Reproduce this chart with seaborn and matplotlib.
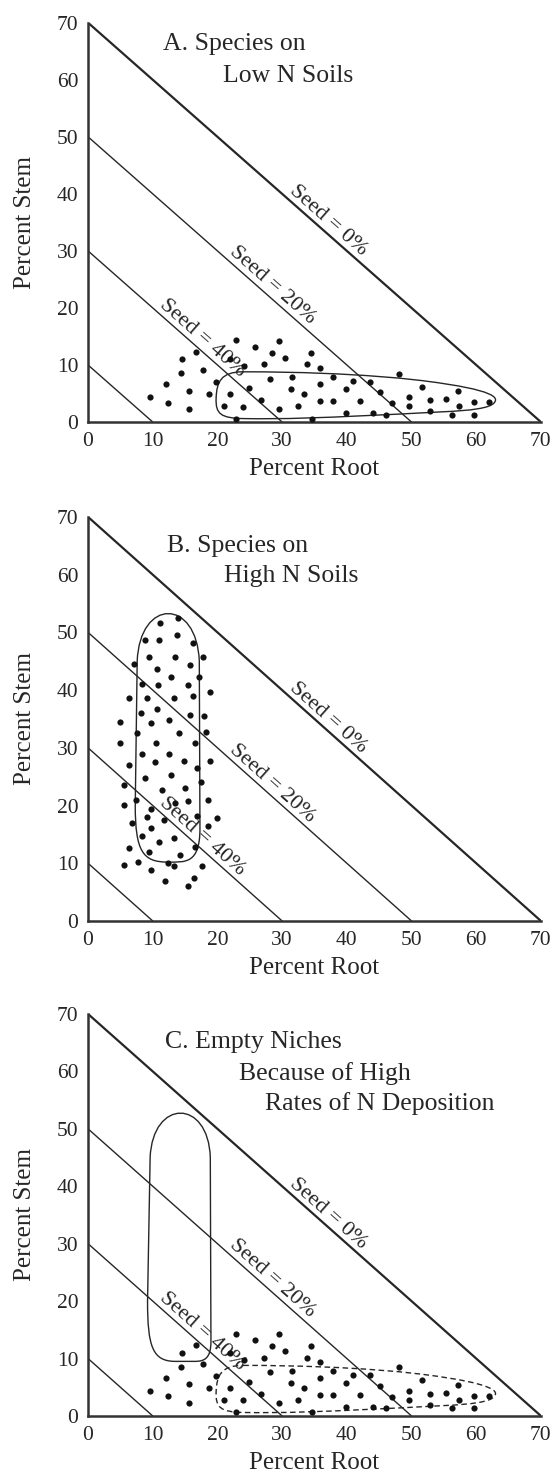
import matplotlib
matplotlib.use("Agg")
import matplotlib.pyplot as plt
from matplotlib.path import Path
from matplotlib.patches import PathPatch
import pandas as pd
import seaborn as sns

# ---- species on low-N soils: allocation to root and stem (%) ----
low_n_root = [22.9, 29.5, 25.8, 16.7, 28.5, 34.4, 30.5, 14.5, 22.0, 24.1,
              27.2, 33.8, 35.9, 17.7, 14.3, 48.0, 28.2, 31.5, 37.9, 40.9,
              43.6, 19.8, 12.1, 35.9, 51.6, 24.9, 31.4, 39.9, 57.2, 15.6,
              45.2, 18.7, 21.9, 33.4, 9.6, 26.7, 35.9, 37.8, 42.0, 49.6,
              52.9, 55.3, 59.7, 62.0, 47.0, 12.3, 21.0, 24.0, 32.4, 49.6,
              57.4, 29.5, 15.6, 52.9, 39.9, 44.1, 46.1, 56.3, 59.7, 22.9,
              34.6]
low_n_stem = [14.3, 14.2, 13.2, 12.3, 12.1, 12.1, 11.3, 11.0, 11.0, 9.8,
              10.1, 10.1, 9.4, 9.1, 8.6, 8.5, 7.6, 7.9, 7.9, 7.2,
              7.1, 7.0, 6.6, 6.6, 6.2, 5.9, 5.8, 5.8, 5.4, 5.5,
              5.2, 4.9, 4.9, 4.9, 4.3, 3.8, 3.6, 3.7, 3.7, 4.4,
              3.8, 4.0, 3.5, 3.5, 3.3, 3.4, 2.8, 2.7, 2.8, 2.8,
              2.8, 2.2, 2.2, 1.9, 1.5, 1.5, 1.3, 1.3, 1.3, 0.6,
              0.6]

# ---- species on high-N soils ----
high_n_root = [11.1, 13.9, 8.8, 10.9, 13.7, 16.3, 9.4, 13.5, 17.8, 7.1,
               15.8, 10.6, 12.8, 17.2, 8.4, 10.8, 15.4, 6.4, 9.1, 13.3,
               16.3, 18.9, 10.6, 8.2, 15.8, 17.9, 5.0, 9.8, 12.5, 7.5,
               14.0, 18.3, 4.9, 10.5, 16.5, 8.3, 12.5, 6.4, 10.4, 14.8,
               18.9, 16.8, 12.9, 8.8, 5.5, 17.4, 15.0, 11.5, 7.4, 15.4,
               18.6, 5.5, 9.7, 13.4, 9.1, 11.8, 16.8, 19.9, 6.8, 18.5,
               9.8, 8.3, 10.9, 13.3, 6.4, 9.4, 16.5, 14.2, 5.5, 7.8,
               9.7, 12.3, 13.3, 17.6, 16.4, 11.9, 15.4]
high_n_stem = [51.6, 52.5, 48.6, 48.6, 49.6, 48.2, 45.7, 45.7, 45.8, 44.5,
               44.4, 43.6, 42.3, 42.2, 41.1, 40.9, 40.9, 38.6, 38.6, 38.6,
               39.0, 39.6, 36.7, 36.0, 35.7, 35.5, 34.5, 34.3, 34.8, 32.5,
               32.5, 32.8, 30.9, 30.9, 30.9, 28.9, 28.9, 27.1, 27.6, 27.8,
               27.8, 26.5, 25.3, 24.7, 23.6, 24.1, 23.0, 22.7, 21.0, 20.8,
               21.0, 20.1, 19.4, 20.4, 18.0, 17.5, 18.1, 17.8, 17.0, 16.5,
               16.1, 14.7, 13.6, 14.3, 12.6, 12.0, 12.8, 11.4, 9.7, 10.3,
               8.8, 10.1, 9.5, 9.5, 7.4, 7.0, 6.1]

# ---- envelopes around each group (M = move, L = line, C = cubic bezier) ----
low_n_env_root = [24.0, 42.0, 52.0, 52.0, 63.2, 63.4, 62.8, 62.2, 59.0, 55.0,
                  35.0, 30.0, 24.0, 20.5, 19.7, 19.8, 19.9, 20.5, 24.0]
low_n_env_stem = [8.8, 8.8, 7.2, 7.2, 5.6, 4.2, 3.4, 2.4, 2.0, 1.8,
                  0.6, 0.5, 0.6, 0.7, 1.4, 4.2, 7.0, 8.8, 8.8]
low_n_env_codes = "MCCCCCCCLCCCCCCCCCC"

high_n_env_root = [7.3, 7.6, 8.0, 16.8, 17.2, 17.3, 17.3, 15.0, 12.3, 8.5, 7.3, 7.3]
high_n_env_stem = [20.0, 45.0, 56.0, 56.0, 45.0, 16.0, 9.8, 10.2, 10.2, 10.2, 12.0, 20.0]
high_n_env_codes = "MLCCCLCCCCCC"

empty_env_root = [9.2, 9.6, 10.0, 18.6, 18.9, 19.0, 19.0, 18.0, 16.5, 13.5, 10.0, 9.2, 9.2]
empty_env_stem = [20.0, 45.0, 55.3, 55.3, 45.0, 13.0, 10.0, 9.5, 9.5, 9.5, 9.5, 12.0, 20.0]
empty_env_codes = "MLCCCLCCCLCCC"

# ---- seed-allocation isolines (root + stem = 100 - leaf/other - seed) ----
seed_levels = [0, 20, 40, 60]
seed_total = [70, 50, 30, 10]
seed_label_levels = [0, 20, 40]
seed_label_root = [36.6, 28.0, 17.2]

axis_ticks = [0, 10, 20, 30, 40, 50, 60, 70]

INK = "#262626"
SERIF = ["Liberation Serif", "DejaVu Serif"]

sns.set_theme(style="white")
plt.rcParams["font.family"] = SERIF

CODE_MAP = {"M": Path.MOVETO, "L": Path.LINETO, "C": Path.CURVE4}


def envelope(ax, xs, ys, codes, dashed=False):
    path = Path(list(zip(xs, ys)), [CODE_MAP[c] for c in codes])
    patch = PathPatch(path, facecolor="none", edgecolor=INK, lw=1.0,
                      linestyle=(0, (4, 2.5)) if dashed else "-",
                      zorder=2)
    ax.add_patch(patch)


def base_panel(ax):
    for lvl, tot in zip(seed_levels, seed_total):
        sns.lineplot(x=[0, tot], y=[tot, 0], ax=ax, color=INK,
                     lw=1.6 if lvl == 0 else 1.0, sort=False,
                     estimator=None, zorder=1)
    for lvl, cx in zip(seed_label_levels, seed_label_root):
        tot = seed_total[seed_levels.index(lvl)]
        ax.text(cx, tot - cx + 1.3, f"Seed = {lvl}%", rotation=-45,
                transform_rotates_text=True, rotation_mode="anchor",
                ha="center", va="baseline", fontsize=16, color=INK,
                zorder=3)
    ax.set_xlim(0, 70)
    ax.set_ylim(0, 70)
    ax.set_xticks(axis_ticks)
    ax.set_yticks(axis_ticks)
    ax.tick_params(direction="in", length=7, width=1.3, colors=INK,
                   labelsize=15.5, pad=7)
    ax.tick_params(axis="x", pad=7)
    for side in ("top", "right"):
        ax.spines[side].set_visible(False)
    for side in ("left", "bottom"):
        ax.spines[side].set_linewidth(1.8)
        ax.spines[side].set_color("#333333")
    ax.set_xlabel("Percent Root", fontsize=18, color=INK, labelpad=5)
    ax.set_ylabel("Percent Stem", fontsize=18, color=INK, labelpad=15)
    ax.set_facecolor("white")


def dots(ax, root, stem):
    df = pd.DataFrame({"root": root, "stem": stem})
    sns.scatterplot(data=df, x="root", y="stem", ax=ax, color="#111111",
                    s=20, linewidth=0, zorder=4, legend=False)


fig = plt.figure(figsize=(5.55, 14.74), dpi=100)
fig.patch.set_facecolor("white")
left, width = 0.1586, 0.816
ax_a = fig.add_axes([left, 0.7137, width, 0.2709])
ax_b = fig.add_axes([left, 0.3752, width, 0.2741])
ax_c = fig.add_axes([left, 0.0394, width, 0.2727])

for ax in (ax_a, ax_b, ax_c):
    base_panel(ax)

title_kw = dict(fontsize=18.5, color=INK, ha="left", va="baseline")

# A. low-N species
dots(ax_a, low_n_root, low_n_stem)
envelope(ax_a, low_n_env_root, low_n_env_stem, low_n_env_codes)
ax_a.text(11.6, 65.3, "A. Species on", **title_kw)
ax_a.text(20.9, 59.6, "Low N Soils", **title_kw)

# B. high-N species
dots(ax_b, high_n_root, high_n_stem)
envelope(ax_b, high_n_env_root, high_n_env_stem, high_n_env_codes)
ax_b.text(12.2, 64.0, "B. Species on", **title_kw)
ax_b.text(21.0, 58.8, "High N Soils", **title_kw)

# C. low-N species remain, high-N envelope now empty
dots(ax_c, low_n_root, low_n_stem)
envelope(ax_c, low_n_env_root, low_n_env_stem, low_n_env_codes, dashed=True)
envelope(ax_c, empty_env_root, empty_env_stem, empty_env_codes)
ax_c.text(11.9, 64.1, "C. Empty Niches", **title_kw)
ax_c.text(23.4, 58.5, "Because of High", **title_kw)
ax_c.text(27.4, 53.3, "Rates of N Deposition", **title_kw)

fig.savefig("out.png", dpi=100, facecolor="white")
